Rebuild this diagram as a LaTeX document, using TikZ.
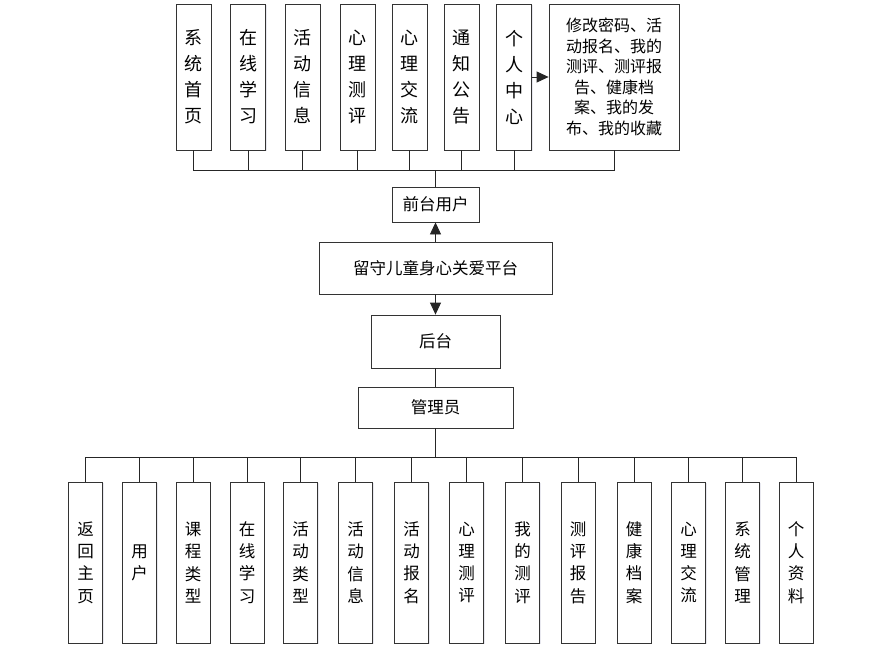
\documentclass[tikz,border=0pt]{standalone}
\usepackage{fontspec}
\setmainfont{Noto Sans CJK SC}
\usetikzlibrary{arrows.meta,shadows}
\tikzset{
  x=1pt,y=-1pt,
  box/.style={draw=black!80,line width=0.8pt,fill=white,inner sep=0pt,align=center,
    drop shadow={shadow xshift=1.2pt,shadow yshift=-1.2pt,fill=blue!30!black!15,opacity=0.6}},
  tbox/.style={box,minimum width=35pt,minimum height=146pt,font=\fontsize{18}{26}\selectfont},
  bbox/.style={box,minimum width=34pt,minimum height=161pt,font=\fontsize{16.5}{22.3}\selectfont},
  mbox/.style={box,font=\fontsize{16.5}{18}\selectfont},
  conn/.style={draw=black!85,line width=0.8pt},
  arr/.style={conn,-{Triangle[length=12pt,width=11pt]}}
}
\begin{document}
\begin{tikzpicture}
\useasboundingbox (0,0) rectangle (880,653);
% top row
\node[tbox] (t1) at (193.5,77) {系\\统\\首\\页};
\node[tbox] (t2) at (248,77) {在\\线\\学\\习};
\node[tbox] (t3) at (302.5,77) {活\\动\\信\\息};
\node[tbox] (t4) at (357.5,77) {心\\理\\测\\评};
\node[tbox] (t5) at (409.5,77) {心\\理\\交\\流};
\node[tbox] (t6) at (461.5,77) {通\\知\\公\\告};
\node[tbox] (t7) at (514,77) {个\\人\\中\\心};
\node[box,minimum width=130pt,minimum height=146pt,font=\fontsize{16}{20.5}\selectfont] (t8) at (614,77)
  {修改密码、活\\动报名、我的\\测评、测评报\\告、健康档\\案、我的发\\布、我的收藏};
% middle
\node[mbox,minimum width=87pt,minimum height=35pt] (front) at (435.5,204.5) {前台用户};
\node[mbox,minimum width=233pt,minimum height=52pt] (plat) at (435.5,268) {留守儿童身心关爱平台};
\node[mbox,minimum width=129pt,minimum height=53pt] (back) at (435.5,341.5) {后台};
\node[mbox,minimum width=155pt,minimum height=41pt] (admin) at (435.5,407.5) {管理员};
% bottom row
\node[bbox] (b1) at (85.5,562.5) {返\\回\\主\\页};
\node[bbox] (b2) at (139.5,562.5) {用\\户};
\node[bbox] (b3) at (193,562.5) {课\\程\\类\\型};
\node[bbox] (b4) at (247,562.5) {在\\线\\学\\习};
\node[bbox] (b5) at (300.5,562.5) {活\\动\\类\\型};
\node[bbox] (b6) at (355.5,562.5) {活\\动\\信\\息};
\node[bbox] (b7) at (411.5,562.5) {活\\动\\报\\名};
\node[bbox] (b8) at (466.5,562.5) {心\\理\\测\\评};
\node[bbox] (b9) at (522.5,562.5) {我\\的\\测\\评};
\node[bbox] (b10) at (578,562.5) {测\\评\\报\\告};
\node[bbox] (b11) at (634,562.5) {健\\康\\档\\案};
\node[bbox] (b12) at (688.5,562.5) {心\\理\\交\\流};
\node[bbox] (b13) at (742.5,562.5) {系\\统\\管\\理};
\node[bbox] (b14) at (796,562.5) {个\\人\\资\\料};
% buses
\coordinate (tb) at (435.5,170);
\coordinate (bb) at (435.5,457);
\foreach \n in {t1,t2,t3,t4,t5,t6,t7,t8} \draw[conn] (\n.south) |- (tb);
\draw[conn] (front.north) -- (tb);
\draw[arr] (t7.east) -- (t8.west);
\draw[arr] (plat.north) -- (front.south);
\draw[arr] (plat.south) -- (back.north);
\draw[conn] (back.south) -- (admin.north);
\draw[conn] (admin.south) -- (bb);
\foreach \n in {b1,b2,b3,b4,b5,b6,b7,b8,b9,b10,b11,b12,b13,b14} \draw[conn] (\n.north) |- (bb);
\end{tikzpicture}
\end{document}
